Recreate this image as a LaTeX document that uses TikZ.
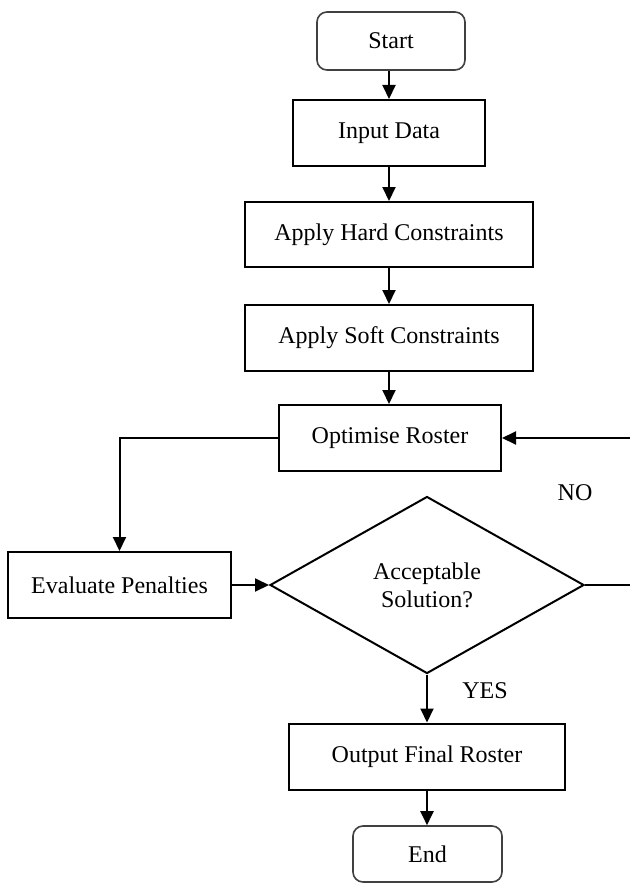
\documentclass[tikz,border=0pt]{standalone}
\usepackage{fontspec}
\setmainfont{Liberation Serif}
\usetikzlibrary{shapes.geometric,arrows.meta}
\begin{document}
\begin{tikzpicture}[
  font=\fontsize{12pt}{14pt}\selectfont,
  box/.style={draw=black, line width=1pt, rectangle, inner sep=0pt, anchor=center},
  term/.style={draw=black!75, line width=0.8pt, rectangle, rounded corners=5pt, inner sep=0pt, anchor=center},
  decision/.style={draw=black, line width=1pt, diamond, inner sep=0pt, align=center, anchor=center},
  conn/.style={line width=1pt, -{Triangle[length=7pt,width=6.5pt]}},
  plainline/.style={line width=1pt},
  lbl/.style={inner sep=0pt, anchor=center}
]
\useasboundingbox (0pt,0pt) rectangle (314.5pt,-441.5pt);
\fill[white] (0pt,0pt) rectangle (314.5pt,-441.5pt);

\node[term, minimum width=74pt, minimum height=29pt] (start) at (195.5pt,-20.5pt) {Start};
\node[box, minimum width=96pt, minimum height=33pt] (input) at (194.5pt,-66.5pt) {Input Data};
\node[box, minimum width=144pt, minimum height=32.5pt] (hard) at (194.5pt,-117.25pt) {Apply Hard Constraints};
\node[box, minimum width=144pt, minimum height=33pt] (soft) at (194.5pt,-169pt) {Apply Soft Constraints};
\node[box, minimum width=111pt, minimum height=33pt] (opt) at (195pt,-219pt) {Optimise Roster};
\node[box, minimum width=111.5pt, minimum height=33pt] (eval) at (59.75pt,-292.5pt) {Evaluate Penalties};
\node[decision, minimum width=157pt, minimum height=88.5pt, shape aspect=1.774] (dia) at (213.5pt,-292.5pt) {Acceptable\\Solution?};
\node[box, minimum width=138pt, minimum height=33pt] (out) at (213.5pt,-378.25pt) {Output Final Roster};
\node[term, minimum width=74.5pt, minimum height=28pt] (end) at (213.75pt,-427pt) {End};

\node[lbl] (no) at (287.5pt,-246.5pt) {NO};
\node[lbl] (yes) at (242.5pt,-345.5pt) {YES};

\coordinate (loopr) at (322pt,-292.5pt);

\draw[conn] (start.south -| input.north) -- (input.north);
\draw[conn] (input.south) -- (hard.north -| input.south);
\draw[conn] (hard.south) -- (soft.north);
\draw[conn] (soft.south) -- (soft.south |- opt.north);
\draw[conn] (opt.west) -| (eval.north);
\draw[conn] (eval.east) -- (dia.west);
\draw[conn] (dia.east) -- (loopr) |- (opt.east);
\draw[conn] (dia.south) -- (out.north);
\draw[conn] (out.south) -- (out.south |- end.north);
\end{tikzpicture}
\end{document}
